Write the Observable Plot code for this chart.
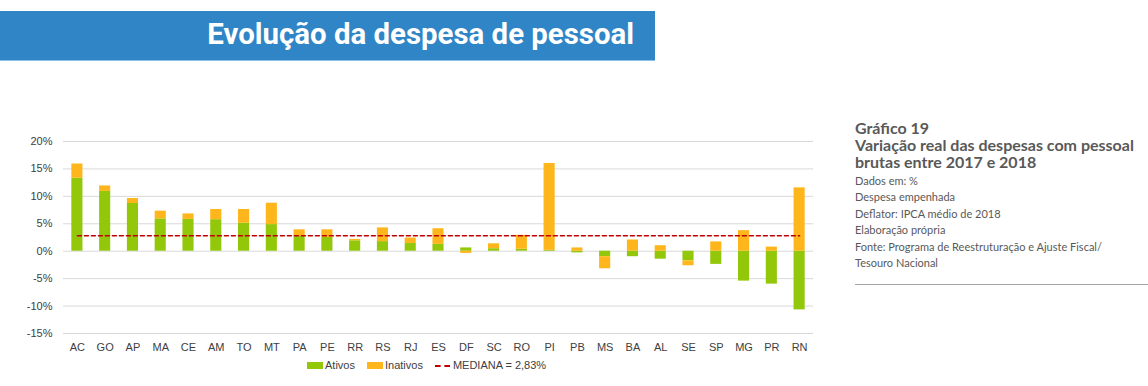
<!DOCTYPE html>
<html>
<head>
<meta charset="utf-8">
<script src="https://cdn.jsdelivr.net/npm/d3@7"></script>
<script src="https://cdn.jsdelivr.net/npm/@observablehq/plot@0.6"></script>
<style>
  html, body { margin: 0; padding: 0; background: #fff; }
  body { width: 1148px; height: 386px; position: relative; overflow: hidden; }
  #banner { position: absolute; left: 0; top: 11px; width: 655px; height: 50px; background: #2f85c6; border-bottom: 1px solid #8ec0e6; box-sizing: border-box; }
  #banner span { position: absolute; right: 21px; top: 6px; font-family: Roboto, sans-serif; font-weight: 700; font-size: 29.4px; color: #fff; white-space: nowrap; }
  #chart { position: absolute; left: 0; top: 130px; }
  #legend { position: absolute; left: 307px; top: 359px; font-family: "Liberation Sans", sans-serif; font-size: 11px; color: #404040; white-space: nowrap; }
  #legend .sw { display: inline-block; width: 16px; height: 7px; vertical-align: middle; margin-right: 2px; position: relative; top: -1px; }
  #legend .item { margin-right: 12px; }
  #legend .dash { display: inline-block; width: 15px; border-top: 2px dashed #c00000; vertical-align: middle; margin-right: 3px; }
  #notes { position: absolute; left: 855px; top: 119px; width: 293px; color: #595959; font-family: Lato, sans-serif; }
  #notes .t { font-weight: 700; font-size: 16px; line-height: 17px; }
  #notes .s { font-size: 11px; line-height: 16.4px; }
  #notes .rule { position: absolute; left: 0; top: 165px; width: 293px; border-top: 1px solid #a6a6a6; }
</style>
</head>
<body>
<div id="banner"><span>Evolução da despesa de pessoal</span></div>
<div id="chart"></div>
<div id="legend"></div>
<div id="notes"></div>
<script>
const ufs = ["AC","GO","AP","MA","CE","AM","TO","MT","PA","PE","RR","RS","RJ","ES","DF","SC","RO","PI","PB","MS","BA","AL","SE","SP","MG","PR","RN"];
const ativos   = [13.3, 10.9, 8.7, 5.9, 5.8, 5.75, 5.1, 4.85, 2.7, 2.5, 1.9, 1.75, 1.4, 1.25, 0.6, 0.45, 0.35, 0.15, -0.3, -1.0, -1.0, -1.45, -1.75, -2.4, -5.45, -6.0, -10.7];
const inativos = [2.6, 1.0, 0.9, 1.4, 1.0, 1.85, 2.5, 3.9, 1.2, 1.4, 0.25, 2.5, 1.0, 2.85, -0.4, 0.9, 2.55, 15.85, 0.6, -2.2, 2.05, 1.0, -0.9, 1.7, 3.75, 0.75, 11.55];
const mediana = 2.83;
const seriesNames = ["Ativos", "Inativos"];
const seriesColors = ["#92c70a", "#ffb61c"];
const medianaColor = "#c00000";
const yTicks = [-15, -10, -5, 0, 5, 10, 15, 20];
const noteTitle = ["Gráfico 19", "Variação real das despesas com pessoal", "brutas entre 2017 e 2018"];
const noteLines = ["Dados em:  %", "Despesa empenhada", "Deflator: IPCA médio de 2018", "Elaboração própria", "Fonte: Programa de Reestruturação e Ajuste Fiscal/", "Tesouro Nacional"];
const legendMedian = "MEDIANA = 2,83%";
</script>
<script>
const rows = [];
ufs.forEach((uf, i) => {
  rows.push({uf, serie: seriesNames[0], v: ativos[i]});
  rows.push({uf, serie: seriesNames[1], v: inativos[i]});
});

const chart = Plot.plot({
  width: 830,
  height: 235,
  marginLeft: 63,
  marginRight: 17,
  marginTop: 11,
  marginBottom: 32,
  style: {fontFamily: "'Liberation Sans', sans-serif", fontSize: "11px", color: "#404040", background: "transparent"},
  x: {domain: ufs, paddingInner: 0.6, paddingOuter: 0.3, round: false, align: 0.5, label: null, tickSize: 0, tickPadding: 10},
  y: {domain: [-15, 20], ticks: yTicks, tickFormat: d => d + "%", label: null, tickSize: 0, tickPadding: 11},
  color: {domain: seriesNames, range: seriesColors},
  marks: [
    Plot.gridY(yTicks, {stroke: "#d9d9d9", strokeOpacity: 1}),
    Plot.barY(rows, {x: "uf", y: "v", fill: "serie", order: seriesNames}),
    Plot.lineY(ufs, {x: d => d, y: () => mediana, stroke: medianaColor, strokeWidth: 1.5, strokeDasharray: "4,3"})
  ]
});
document.getElementById("chart").appendChild(chart);

const lg = document.getElementById("legend");
lg.innerHTML =
  seriesNames.map((s, i) => `<span class="item"><span class="sw" style="background:${seriesColors[i]}"></span>${s}</span>`).join("") +
  `<span><span class="dash"></span>${legendMedian}</span>`;

const nt = document.getElementById("notes");
nt.innerHTML = noteTitle.map(t => `<div class="t">${t}</div>`).join("") +
  `<div style="height:3px"></div>` +
  noteLines.map(t => `<div class="s">${t}</div>`).join("") +
  `<div class="rule"></div>`;
</script>
</body>
</html>
